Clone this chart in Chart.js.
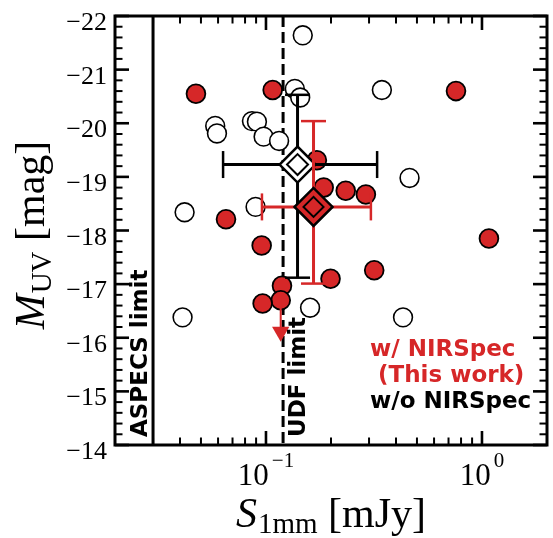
<!DOCTYPE html>
<html><head><meta charset="utf-8">
<script src="https://cdn.jsdelivr.net/npm/chart.js@4.4.1/dist/chart.umd.min.js"></script>
<style>html,body{margin:0;padding:0;background:#fff;}#wrap{width:553px;height:538px;}</style>
</head><body><div id="wrap"><canvas id="c" width="553" height="538"></canvas></div>
<script>
const RED = '#d62728';
// w/ NIRSpec (this work): S_1mm [mJy], M_UV [mag]
const nirspecS = [0.0474, 0.1074, 0.758, 0.172, 0.185, 0.234, 0.290, 0.0653, 1.077, 0.0955, 0.317, 0.199, 0.1186, 0.117, 0.0965];
const nirspecM = [-20.55, -20.62, -20.60, -19.31, -18.80, -18.74, -18.67, -18.21, -17.85, -17.72, -17.26, -17.10, -16.97, -16.70, -16.64];
// w/o NIRSpec
const otherS = [0.148, 0.136, 0.144, 0.344, 0.0582, 0.0593, 0.0861, 0.0908, 0.0975, 0.115, 0.462, 0.0420, 0.0895, 0.0411, 0.160, 0.431];
const otherM = [-21.64, -20.64, -20.48, -20.62, -19.95, -19.81, -20.04, -20.03, -19.75, -19.67, -18.98, -18.34, -18.44, -16.38, -16.56, -16.38];
// sample means with error bars: [w/o NIRSpec, w/ NIRSpec]
const meanS = [0.140, 0.166];
const meanM = [-19.23, -18.44];
const meanSLow = [0.0633, 0.0958];
const meanSHigh = [0.327, 0.306];
const meanMBright = [-20.53, -20.04];
const meanMFaint = [-17.12, -17.01];
// upper-limit arrow
const arrowS = [0.117];
const arrowFrom = [-16.70];
const arrowTo = [-16.11];
// flux limits
const aspecsLimit = 0.030;
const udfLimit = 0.12;
// axes
const xRange = [0.02, 2];
const yRange = [-22, -14];
const yMajor = [-22, -21, -20, -19, -18, -17, -16, -15, -14];
const yTickLabels = ['\u221222', '\u221221', '\u221220', '\u221219', '\u221218', '\u221217', '\u221216', '\u221215', '\u221214'];
const xMajor = [0.1, 1];
const xTickBase = ['10', '10'];
const xTickExp = ['\u22121', '0'];
const xMinor = [0.02, 0.03, 0.04, 0.05, 0.06, 0.07, 0.08, 0.09, 0.2, 0.3, 0.4, 0.5, 0.6, 0.7, 0.8, 0.9, 2];

const pts = (xs, ys) => xs.map((x, i) => ({x, y: ys[i]}));

const datasets = [
  {type: 'line', data: [{x: aspecsLimit, y: yRange[0]}, {x: aspecsLimit, y: yRange[1]}], borderColor: '#000', borderWidth: 3, pointRadius: 0, order: 100},
  {type: 'line', data: [{x: udfLimit, y: yRange[0]}, {x: udfLimit, y: yRange[1]}], borderColor: '#000', borderWidth: 3, borderDash: [11, 5], pointRadius: 0, order: 99},
  {type: 'scatter', data: pts(otherS, otherM), pointStyle: 'circle', pointRadius: 9.4, pointBackgroundColor: '#fff', pointBorderColor: '#000', pointBorderWidth: 1.6, order: 90},
  {type: 'scatter', data: pts(nirspecS, nirspecM), pointStyle: 'circle', pointRadius: 9.4, pointBackgroundColor: RED, pointBorderColor: '#000', pointBorderWidth: 1.8, order: 80},
  {type: 'line', data: [{x: arrowS[0], y: arrowFrom[0]}, {x: arrowS[0], y: arrowTo[0]}], borderColor: RED, borderWidth: 2, pointRadius: 0, order: 75},
  {type: 'scatter', data: pts(arrowS, arrowTo), pointStyle: 'triangle', pointRotation: 180, pointRadius: 10, pointBackgroundColor: RED, pointBorderWidth: 0, order: 74}
];
[0, 1].forEach(i => {
  const c = i === 0 ? '#000' : RED;
  const fill = i === 0 ? '#fff' : RED;
  const base = 60 - i * 20;
  datasets.push(
    {type: 'line', data: [{x: meanSLow[i], y: meanM[i]}, {x: meanSHigh[i], y: meanM[i]}], borderColor: c, borderWidth: 3, pointRadius: 0, order: base},
    {type: 'line', data: [{x: meanS[i], y: meanMBright[i]}, {x: meanS[i], y: meanMFaint[i]}], borderColor: c, borderWidth: 3, pointRadius: 0, order: base},
    {type: 'scatter', data: [{x: meanSLow[i], y: meanM[i]}, {x: meanSHigh[i], y: meanM[i]}], pointStyle: 'line', pointRotation: 90, pointRadius: 13.5, pointBorderColor: c, pointBorderWidth: 2.5, order: base - 1},
    {type: 'scatter', data: [{x: meanS[i], y: meanMBright[i]}, {x: meanS[i], y: meanMFaint[i]}], pointStyle: 'line', pointRotation: 0, pointRadius: 12.5, pointBorderColor: c, pointBorderWidth: 2.5, order: base - 1},
    {type: 'scatter', data: pts([meanS[i]], [meanM[i]]), pointStyle: 'rectRot', pointRadius: i === 0 ? 18 : 19, pointBackgroundColor: fill, pointBorderColor: '#000', pointBorderWidth: 2.5, order: base - 2},
    {type: 'scatter', data: pts([meanS[i]], [meanM[i]]), pointStyle: 'rectRot', pointRadius: i === 0 ? 10.5 : 10, pointBackgroundColor: fill, pointBorderColor: '#000', pointBorderWidth: 2, order: base - 3}
  );
});

function drawParts(ctx, parts, x, y) {
  let w = 0;
  parts.forEach(p => { ctx.font = p.font; p.w = ctx.measureText(p.t).width; w += p.w + (p.gap || 0); });
  let cx = x - w / 2;
  parts.forEach(p => { ctx.font = p.font; ctx.fillText(p.t, cx, y + (p.dy || 0)); cx += p.w + (p.gap || 0); });
}

const framePlugin = {
  id: 'frame',
  afterDraw(chart) {
    const ctx = chart.ctx;
    const xs = chart.scales.x, ys = chart.scales.y;
    const {left, right, top, bottom} = chart.chartArea;
    const MAJ = 14, MIN = 7.5;
    ctx.save();
    ctx.strokeStyle = '#000';
    ctx.lineCap = 'butt';
    const seg = (x1, y1, x2, y2, w) => { ctx.lineWidth = w; ctx.beginPath(); ctx.moveTo(x1, y1); ctx.lineTo(x2, y2); ctx.stroke(); };
    for (let k = 0; k <= 40; k++) {
      const v = yRange[0] + k * 0.2;
      const p = ys.getPixelForValue(v);
      const major = k % 5 === 0;
      const L = major ? MAJ : MIN, w = major ? 2.6 : 2;
      seg(left, p, left + L, p, w); seg(right, p, right - L, p, w);
    }
    xMinor.forEach(v => { const p = xs.getPixelForValue(v); seg(p, bottom, p, bottom - MIN, 2); seg(p, top, p, top + MIN, 2); });
    xMajor.forEach(v => { const p = xs.getPixelForValue(v); seg(p, bottom, p, bottom - MAJ, 2.6); seg(p, top, p, top + MAJ, 2.6); });
    ctx.lineWidth = 3;
    ctx.strokeRect(left, top, right - left, bottom - top);

    ctx.fillStyle = '#000';
    // y tick labels
    ctx.font = '26px "Liberation Serif"';
    ctx.textAlign = 'right';
    ctx.textBaseline = 'alphabetic';
    yMajor.forEach((v, i) => { ctx.fillText(yTickLabels[i], 107, ys.getPixelForValue(v) + 14); });
    // x tick labels
    ctx.textAlign = 'left';
    xMajor.forEach((v, i) => {
      drawParts(ctx, [
        {t: xTickBase[i], font: '31px "Liberation Serif"', gap: 3},
        {t: xTickExp[i], font: '21px "Liberation Serif"', dy: -18}
      ], xs.getPixelForValue(v), 485);
    });
    // x title
    drawParts(ctx, [
      {t: 'S', font: 'italic 42px "Liberation Serif"', gap: 1},
      {t: '1mm', font: '29px "Liberation Serif"', dy: 6},
      {t: ' [mJy]', font: '42px "Liberation Serif"'}
    ], 331, 527);
    // y title
    ctx.save();
    ctx.translate(44, 235);
    ctx.rotate(-Math.PI / 2);
    drawParts(ctx, [
      {t: 'M', font: 'italic 42px "Liberation Serif"', gap: 1},
      {t: 'UV', font: '29px "Liberation Serif"', dy: 7},
      {t: ' [mag]', font: '42px "Liberation Serif"'}
    ], 0, 0);
    ctx.restore();

    // limit labels
    ctx.font = 'bold 23px "DejaVu Sans"';
    ctx.textAlign = 'left';
    [['ASPECS limit', 147], ['UDF limit', 305]].forEach(([t, bx]) => {
      ctx.save(); ctx.translate(bx, 437); ctx.rotate(-Math.PI / 2); ctx.fillText(t, 0, 0); ctx.restore();
    });
    // legend text
    ctx.fillStyle = RED;
    ctx.fillText('w/ NIRSpec', 370, 356);
    ctx.fillText(' (This work)', 370, 382);
    ctx.fillStyle = '#000';
    ctx.fillText('w/o NIRSpec', 370, 408);
    ctx.restore();
  }
};

new Chart(document.getElementById('c'), {
  type: 'scatter',
  data: {datasets},
  options: {
    responsive: false,
    animation: false,
    events: [],
    devicePixelRatio: 1,
    layout: {autoPadding: false, padding: {left: 115, right: 6, top: 16, bottom: 93}},
    plugins: {legend: {display: false}, tooltip: {enabled: false}},
    scales: {
      x: {type: 'logarithmic', min: xRange[0], max: xRange[1], display: false},
      y: {type: 'linear', min: yRange[0], max: yRange[1], reverse: true, display: false}
    }
  },
  plugins: [framePlugin]
});
</script></body></html>
